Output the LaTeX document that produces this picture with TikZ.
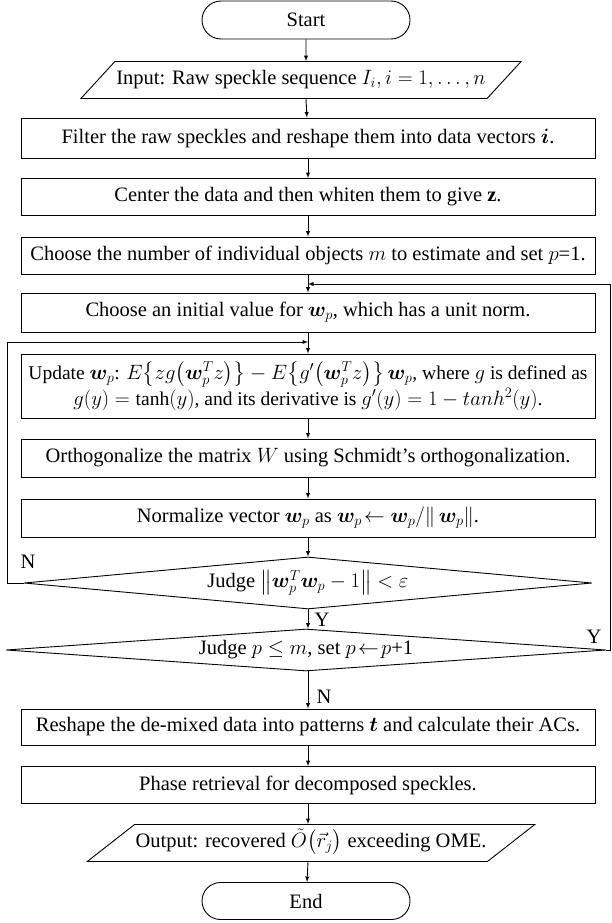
\documentclass[tikz,border=0pt]{standalone}
\usepackage{amsmath,bm}
\usepackage{fontspec}
\setmainfont{Liberation Serif}
\usetikzlibrary{shapes.geometric,shapes.misc}

\tikzset{
  procbox/.style={draw, rectangle, minimum width=574, minimum height=38, inner sep=1pt, align=center},
  termbox/.style={draw, rounded rectangle, minimum width=210, minimum height=38, inner sep=1pt},
  iobox/.style={draw, trapezium, trapezium stretches=true, trapezium left angle=#1,
    trapezium right angle=180-#1, minimum width=441, text height=14pt, text depth=5pt,
    inner xsep=1pt, inner ysep=9pt},
  judgebox/.style={draw, diamond, aspect=12, inner sep=0pt, minimum width=#1},
  flowlabel/.style={inner sep=0pt}
}

\begin{document}
\begin{tikzpicture}[x=1pt,y=-1pt,line width=0.9pt,>=latex,
  every node/.append style={font=\fontsize{20.5}{26}\selectfont}]
  \useasboundingbox (0,0) rectangle (611,923);
  \node[termbox] (start) at (306,20) {Start};
  \node[iobox=47.5] (input) at (301,80) {Input: Raw speckle sequence $I_i, i=1,\ldots,n$};
  \node[procbox, minimum height=40] (filter) at (308,138)
    {Filter the raw speckles and reshape them into data vectors $\bm{i}$.};
  \node[procbox, minimum height=37] (center) at (308,197)
    {Center the data and then whiten them to give $\mathbf{z}$.};
  \node[procbox, minimum height=37] (choose) at (308,255.5)
    {Choose the number of individual objects $m$ to estimate and set $p$=1.};
  \node[procbox, minimum height=39] (init) at (308,312.5)
    {Choose an initial value for $\bm{w}_p$, which has a unit norm.};
  \node[procbox, minimum height=64, font=\fontsize{19.5}{26}\selectfont] (update) at (308,386)
    {Update $\bm{w}_p$: $E\bigl\{zg\bigl(\bm{w}_p^Tz\bigr)\bigr\}-E\bigl\{g'\bigl(\bm{w}_p^Tz\bigr)\bigr\}\,\bm{w}_p$, where $g$ is defined as\\
     $g(y)=\tanh(y)$, and its derivative is $g'(y)=1-tanh^2(y)$.};
  \node[procbox] (ortho) at (308,458)
    {Orthogonalize the matrix $W$ using Schmidt's orthogonalization.};
  \node[procbox] (norm) at (308,518)
    {Normalize vector $\bm{w}_p$ as $\bm{w}_p\!\leftarrow\bm{w}_p/\|\,\bm{w}_p\|$.};
  \node[judgebox=568, minimum height=52] (judge1) at (308,583)
    {Judge $\bigl\|\bm{w}_p^T\bm{w}_p-1\bigr\|<\varepsilon$};
  \node[judgebox=600, minimum height=42] (judge2) at (306,650)
    {Judge $p\le m$, set $p\!\leftarrow\! p$+1};
  \node[procbox, minimum height=36] (reshape) at (308,727)
    {Reshape the de-mixed data into patterns $\bm{t}$ and calculate their ACs.};
  \node[procbox, minimum height=37] (phase) at (308,785)
    {Phase retrieval for decomposed speckles.};
  \node[iobox=38, minimum width=439] (output) at (311,843)
    {Output: recovered $\tilde{O}\bigl(\vec{r}_j\bigr)$ exceeding OME.};
  \node[termbox, minimum height=37] (end) at (306,901) {End};

  % main flow
  \draw[->] (start) -- (start |- input.north);
  \draw[->] (start |- input.south) -- (filter);
  \draw[->] (filter) -- (center);
  \draw[->] (center) -- (choose);
  \draw[->] (choose) -- (init);
  \draw[->] (init) -- (update);
  \draw[->] (update) -- (ortho);
  \draw[->] (ortho) -- (norm);
  \draw[->] (norm) -- (judge1);
  \draw[->] (judge1.south) -- (judge1.south |- judge2.north);
  \draw[->] (judge1.south |- judge2.south) -- (reshape);
  \draw[->] (reshape) -- (phase);
  \draw[->] (phase) -- (phase |- output.north);
  \draw[->] (phase |- output.south) -- (end);

  % loops back
  \coordinate (nloop) at (7,342);
  \coordinate (yloop) at (610,284);
  \draw[->] (judge1.west) -| (nloop) -- (init.south |- nloop);
  \draw[->] (judge2.east) -| (yloop) -- (init.north |- yloop);
  \node[flowlabel] (nlab1) at (28,562) {N};
  \node[flowlabel] (ylab1) at (322,620) {Y};
  \node[flowlabel] (ylab2) at (594,637) {Y};
  \node[flowlabel] (nlab2) at (324,697) {N};
\end{tikzpicture}
\end{document}
